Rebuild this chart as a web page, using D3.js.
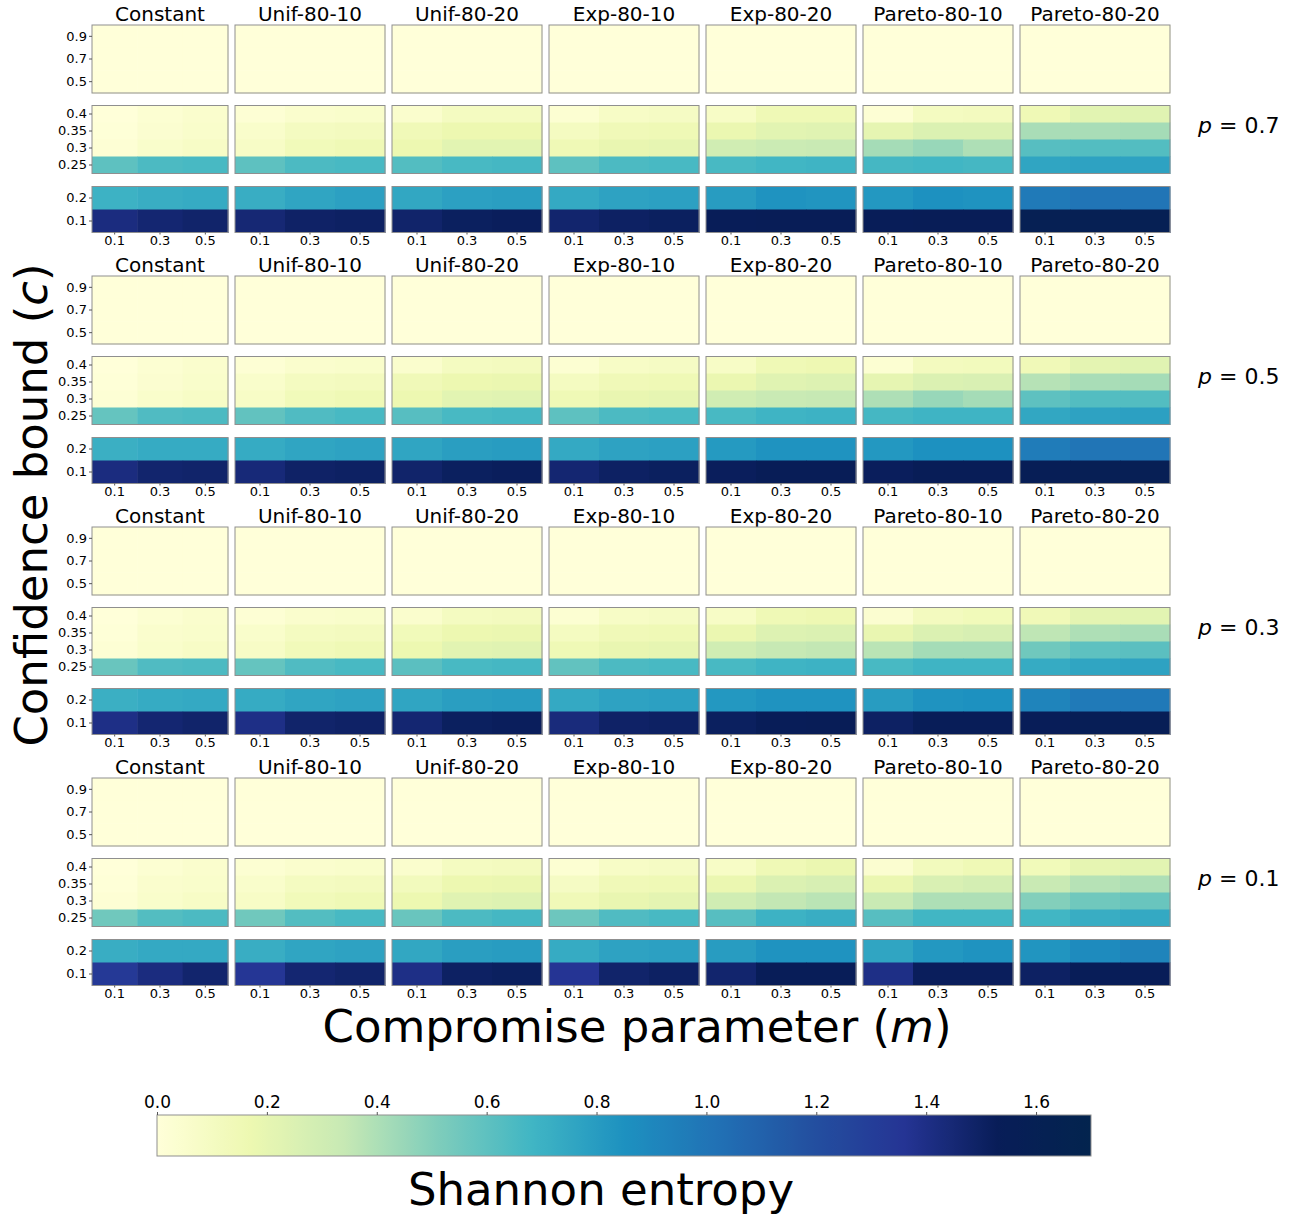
<!DOCTYPE html>
<html><head><meta charset="utf-8">
<script src="https://cdn.jsdelivr.net/npm/d3@7"></script>
<style>body{margin:0;background:#fff}svg{display:block;font-family:"DejaVu Sans",sans-serif}</style>
</head><body><div id="chart"></div>
<script>
const distributions = ["Constant","Unif-80-10","Unif-80-20","Exp-80-10","Exp-80-20","Pareto-80-10","Pareto-80-20"];
const pValues = [0.7, 0.5, 0.3, 0.1];
const mValues = [0.1, 0.3, 0.5];
const cTop = [0.9, 0.7, 0.5];
const cMid = [0.4, 0.35, 0.3, 0.25];
const cBot = [0.2, 0.1];
const cValues = [0.1, 0.2, 0.25, 0.3, 0.35, 0.4, 0.5, 0.7, 0.9];
const colorTicks = [0.0, 0.2, 0.4, 0.6, 0.8, 1.0, 1.2, 1.4, 1.6];
const colorStops = [0, 0.17, 0.34, 0.51, 0.68, 0.85, 1.02, 1.19, 1.36, 1.53, 1.7];
const colorHex = ["#ffffd9","#edf8b1","#c7e9b4","#7fcdbb","#41b6c4","#1d91c0","#2171b5","#2350a0","#253494","#081d58","#03244e"];

// entropy[distribution][c index in cValues order][m index]
const H_p07 = [
 [[1.42,1.46,1.48],[0.70,0.72,0.73],[0.60,0.65,0.66],[0.02,0.06,0.08],[0.01,0.04,0.06],[0.00,0.03,0.05],[0,0,0],[0,0,0],[0,0,0]],
 [[1.45,1.49,1.50],[0.72,0.76,0.78],[0.60,0.65,0.66],[0.08,0.13,0.15],[0.06,0.10,0.11],[0.02,0.05,0.06],[0,0,0],[0,0,0],[0,0,0]],
 [[1.48,1.51,1.52],[0.75,0.78,0.79],[0.63,0.66,0.67],[0.17,0.22,0.22],[0.14,0.17,0.17],[0.05,0.10,0.10],[0,0,0],[0,0,0],[0,0,0]],
 [[1.47,1.50,1.51],[0.74,0.77,0.78],[0.60,0.65,0.66],[0.15,0.19,0.20],[0.10,0.14,0.15],[0.03,0.08,0.09],[0,0,0],[0,0,0],[0,0,0]],
 [[1.53,1.54,1.54],[0.80,0.84,0.83],[0.66,0.68,0.69],[0.30,0.32,0.33],[0.18,0.22,0.23],[0.08,0.15,0.15],[0,0,0],[0,0,0],[0,0,0]],
 [[1.53,1.54,1.54],[0.82,0.85,0.84],[0.67,0.68,0.67],[0.42,0.45,0.40],[0.20,0.25,0.25],[0.02,0.10,0.11],[0,0,0],[0,0,0],[0,0,0]],
 [[1.60,1.60,1.60],[0.97,1.00,1.00],[0.76,0.77,0.77],[0.62,0.63,0.63],[0.41,0.41,0.42],[0.15,0.22,0.23],[0,0,0],[0,0,0],[0,0,0]]
];
const H_p05 = [
 [[1.42,1.47,1.48],[0.71,0.73,0.73],[0.58,0.64,0.65],[0.02,0.06,0.08],[0.01,0.04,0.06],[0.00,0.03,0.05],[0,0,0],[0,0,0],[0,0,0]],
 [[1.44,1.49,1.50],[0.73,0.76,0.77],[0.59,0.64,0.66],[0.08,0.13,0.15],[0.06,0.10,0.11],[0.02,0.05,0.06],[0,0,0],[0,0,0],[0,0,0]],
 [[1.48,1.51,1.52],[0.76,0.79,0.80],[0.62,0.66,0.67],[0.17,0.22,0.23],[0.14,0.17,0.18],[0.05,0.10,0.11],[0,0,0],[0,0,0],[0,0,0]],
 [[1.46,1.50,1.51],[0.74,0.77,0.78],[0.60,0.65,0.66],[0.15,0.19,0.20],[0.10,0.14,0.15],[0.03,0.08,0.09],[0,0,0],[0,0,0],[0,0,0]],
 [[1.52,1.54,1.54],[0.81,0.84,0.84],[0.66,0.69,0.70],[0.30,0.33,0.34],[0.18,0.23,0.24],[0.08,0.15,0.16],[0,0,0],[0,0,0],[0,0,0]],
 [[1.52,1.54,1.54],[0.82,0.85,0.85],[0.67,0.69,0.69],[0.40,0.45,0.42],[0.20,0.25,0.26],[0.03,0.11,0.12],[0,0,0],[0,0,0],[0,0,0]],
 [[1.56,1.58,1.58],[0.96,1.00,1.00],[0.75,0.77,0.78],[0.60,0.63,0.63],[0.38,0.41,0.42],[0.14,0.21,0.23],[0,0,0],[0,0,0],[0,0,0]]
];
const H_p03 = [
 [[1.40,1.46,1.48],[0.71,0.73,0.74],[0.57,0.64,0.65],[0.02,0.06,0.08],[0.01,0.05,0.06],[0.00,0.03,0.05],[0,0,0],[0,0,0],[0,0,0]],
 [[1.40,1.48,1.49],[0.73,0.76,0.77],[0.58,0.64,0.66],[0.08,0.13,0.15],[0.06,0.10,0.11],[0.02,0.05,0.06],[0,0,0],[0,0,0],[0,0,0]],
 [[1.46,1.51,1.52],[0.76,0.79,0.80],[0.61,0.66,0.67],[0.17,0.22,0.23],[0.13,0.17,0.18],[0.05,0.10,0.11],[0,0,0],[0,0,0],[0,0,0]],
 [[1.43,1.49,1.50],[0.74,0.77,0.78],[0.59,0.65,0.66],[0.15,0.19,0.20],[0.10,0.14,0.15],[0.03,0.08,0.09],[0,0,0],[0,0,0],[0,0,0]],
 [[1.51,1.53,1.54],[0.82,0.84,0.84],[0.66,0.69,0.70],[0.30,0.34,0.35],[0.18,0.24,0.25],[0.08,0.15,0.16],[0,0,0],[0,0,0],[0,0,0]],
 [[1.50,1.53,1.53],[0.80,0.84,0.85],[0.66,0.69,0.69],[0.37,0.42,0.42],[0.19,0.25,0.27],[0.04,0.11,0.13],[0,0,0],[0,0,0],[0,0,0]],
 [[1.53,1.56,1.56],[0.92,0.97,0.98],[0.73,0.76,0.77],[0.55,0.60,0.61],[0.36,0.40,0.41],[0.14,0.21,0.22],[0,0,0],[0,0,0],[0,0,0]]
];
const H_p01 = [
 [[1.33,1.42,1.47],[0.72,0.74,0.74],[0.55,0.63,0.65],[0.02,0.06,0.08],[0.01,0.05,0.06],[0.00,0.03,0.05],[0,0,0],[0,0,0],[0,0,0]],
 [[1.35,1.46,1.48],[0.72,0.76,0.77],[0.55,0.63,0.66],[0.08,0.13,0.15],[0.06,0.10,0.11],[0.03,0.05,0.06],[0,0,0],[0,0,0],[0,0,0]],
 [[1.40,1.50,1.51],[0.75,0.79,0.80],[0.57,0.65,0.67],[0.17,0.23,0.24],[0.12,0.17,0.18],[0.05,0.10,0.11],[0,0,0],[0,0,0],[0,0,0]],
 [[1.36,1.48,1.50],[0.73,0.77,0.78],[0.56,0.64,0.66],[0.14,0.19,0.21],[0.09,0.14,0.15],[0.03,0.08,0.09],[0,0,0],[0,0,0],[0,0,0]],
 [[1.47,1.53,1.53],[0.80,0.84,0.84],[0.62,0.70,0.72],[0.30,0.35,0.37],[0.18,0.25,0.27],[0.08,0.15,0.18],[0,0,0],[0,0,0],[0,0,0]],
 [[1.40,1.52,1.52],[0.76,0.82,0.84],[0.62,0.68,0.68],[0.33,0.40,0.40],[0.18,0.26,0.28],[0.04,0.12,0.15],[0,0,0],[0,0,0],[0,0,0]],
 [[1.50,1.53,1.53],[0.83,0.88,0.92],[0.68,0.72,0.74],[0.50,0.55,0.57],[0.33,0.38,0.40],[0.13,0.20,0.22],[0,0,0],[0,0,0],[0,0,0]]
];
const entropyByP = [H_p07, H_p05, H_p03, H_p01];

const W = 1302, H = 1218;
const svg = d3.select("#chart").append("svg").attr("width", W).attr("height", H);

const color = d3.scaleLinear().domain(colorStops).range(colorHex).interpolate(d3.interpolateRgb).clamp(true);

const rowTop = r => 25 + 251 * r;
const colX = i => i === 0 ? 92 : 235 + 157 * (i - 1);
const colW = i => i === 0 ? 136 : 150;
const subPanels = [
  {cs: cTop, y0: 0, y1: 68},
  {cs: cMid, y0: 80.5, y1: 148.5},
  {cs: cBot, y0: 161.5, y1: 207.5}
];

pValues.forEach((p, r) => {
  const data = entropyByP[r];
  const gRow = svg.append("g").attr("transform", `translate(0,${rowTop(r)})`);
  distributions.forEach((dist, i) => {
    const x0 = colX(i), w = colW(i);
    const x = d3.scaleBand().domain(mValues).range([x0, x0 + w]);
    const g = gRow.append("g");
    g.append("text").attr("x", x0 + w / 2).attr("y", -4).attr("text-anchor", "middle")
      .attr("font-size", 20).attr("fill", "#000").text(dist);
    subPanels.forEach(sp => {
      const y = d3.scaleBand().domain(sp.cs).range([sp.y0, sp.y1]);
      const cells = [];
      sp.cs.forEach(c => {
        const ci = cValues.indexOf(c);
        mValues.forEach((m, mi) => cells.push({c, m, v: data[i][ci][mi]}));
      });
      g.selectAll(null).data(cells).join("rect")
        .attr("x", d => x(d.m)).attr("y", d => y(d.c))
        .attr("width", x.bandwidth() + 0.5).attr("height", y.bandwidth() + 0.5)
        .attr("fill", d => color(d.v));
      g.append("rect").attr("x", x0).attr("y", sp.y0).attr("width", w).attr("height", sp.y1 - sp.y0)
        .attr("fill", "none").attr("stroke", "#8f8f8f").attr("stroke-width", 1);
      if (i === 0) {
        const ax = g.append("g").attr("transform", `translate(${x0},0)`)
          .call(d3.axisLeft(y).tickSize(3).tickPadding(2).tickFormat(d => String(d)));
        ax.select(".domain").remove();
        ax.selectAll("line").attr("stroke", "#555");
        ax.selectAll("text").attr("font-size", 13).attr("fill", "#000").attr("font-family", "DejaVu Sans");
      }
    });
    const axB = g.append("g").attr("transform", `translate(0,${subPanels[2].y1})`)
      .call(d3.axisBottom(x).tickSize(2).tickPadding(1).tickFormat(d => String(d)));
    axB.select(".domain").remove();
    axB.selectAll("line").attr("stroke", "#555");
    axB.selectAll("text").attr("font-size", 13).attr("fill", "#000").attr("font-family", "DejaVu Sans");
  });
  const pl = gRow.append("text").attr("x", 1198).attr("y", 108).attr("font-size", 22).attr("fill", "#000");
  pl.append("tspan").attr("font-style", "italic").text("p");
  pl.append("tspan").text(` = ${p}`);
});

// axis titles
const yl = svg.append("text").attr("transform", "translate(47,505) rotate(-90)")
  .attr("text-anchor", "middle").attr("font-size", 45).attr("fill", "#000");
yl.append("tspan").text("Confidence bound (");
yl.append("tspan").attr("font-style", "italic").text("c");
yl.append("tspan").text(")");

const xl = svg.append("text").attr("x", 637).attr("y", 1042)
  .attr("text-anchor", "middle").attr("font-size", 45).attr("fill", "#000");
xl.append("tspan").text("Compromise parameter (");
xl.append("tspan").attr("font-style", "italic").text("m");
xl.append("tspan").text(")");

// colorbar
const cbX0 = 157, cbX1 = 1091, cbY0 = 1115, cbY1 = 1156;
const cbScale = d3.scaleLinear().domain([0, 1.7]).range([cbX0, cbX1]);
const defs = svg.append("defs");
const grad = defs.append("linearGradient").attr("id", "cbgrad").attr("x1", "0%").attr("x2", "100%");
d3.range(0, 1.7001, 0.017).forEach(v => {
  grad.append("stop").attr("offset", (v / 1.7 * 100) + "%").attr("stop-color", color(v));
});
svg.append("rect").attr("x", cbX0).attr("y", cbY0).attr("width", cbX1 - cbX0).attr("height", cbY1 - cbY0)
  .attr("fill", "url(#cbgrad)").attr("stroke", "#8f8f8f").attr("stroke-width", 1);
const cbAx = svg.append("g").attr("transform", `translate(0,${cbY0})`)
  .call(d3.axisTop(cbScale).tickValues(colorTicks).tickSize(3).tickPadding(4).tickFormat(d3.format(".1f")));
cbAx.select(".domain").remove();
cbAx.selectAll("line").attr("stroke", "#555");
cbAx.selectAll("text").attr("font-size", 17).attr("fill", "#000").attr("font-family", "DejaVu Sans");

svg.append("text").attr("x", 601).attr("y", 1205).attr("text-anchor", "middle")
  .attr("font-size", 45).attr("fill", "#000").text("Shannon entropy");
</script></body></html>
